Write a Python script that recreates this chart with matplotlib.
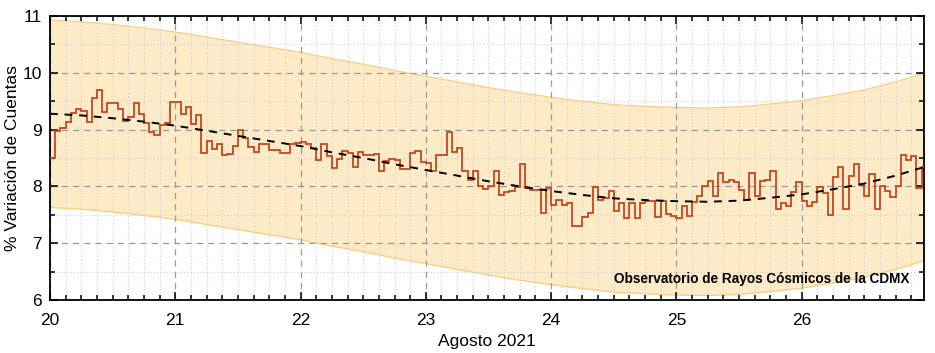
import matplotlib
matplotlib.use("Agg")
import matplotlib.pyplot as plt
import numpy as np
from matplotlib.ticker import MultipleLocator

plt.rcParams['font.family'] = ['Liberation Sans', 'DejaVu Sans']

# Hourly % variation of counts, 20 Aug 2021 00h onward
hourly_values = [
    8.50, 8.97, 9.03, 9.13, 9.30, 9.37, 9.33, 9.13, 9.55, 9.70, 9.31, 9.46,
    9.46, 9.37, 9.16, 9.23, 9.47, 9.28, 9.12, 8.96, 8.90, 9.09, 9.12, 9.48,
    9.48, 9.28, 9.40, 9.10, 9.26, 8.59, 8.80, 8.65, 8.75, 8.55, 8.57, 8.72,
    8.99, 8.85, 8.69, 8.61, 8.75, 8.75, 8.64, 8.64, 8.59, 8.59, 8.75, 8.77,
    8.78, 8.75, 8.67, 8.46, 8.75, 8.53, 8.33, 8.49, 8.62, 8.59, 8.35, 8.60,
    8.56, 8.56, 8.57, 8.28, 8.44, 8.49, 8.46, 8.30, 8.30, 8.59, 8.62, 8.43,
    8.41, 8.28, 8.55, 8.56, 8.95, 8.61, 8.67, 8.27, 8.12, 8.28, 8.01, 7.96,
    8.01, 8.27, 7.85, 7.90, 7.92, 7.99, 8.39, 7.98, 7.93, 7.93, 7.53, 7.98,
    7.67, 7.76, 7.67, 7.70, 7.31, 7.30, 7.46, 7.54, 7.99, 7.76, 7.80, 7.92,
    7.56, 7.71, 7.44, 7.71, 7.44, 7.71, 7.74, 7.74, 7.46, 7.74, 7.52, 7.48,
    7.45, 7.65, 7.48, 7.73, 7.83, 8.00, 8.09, 7.83, 8.24, 8.08, 8.11, 8.07,
    7.94, 7.76, 8.24, 7.83, 8.09, 8.11, 8.27, 7.61, 7.70, 7.65, 7.91, 8.07,
    7.74, 7.65, 7.72, 7.99, 7.89, 7.49, 8.17, 8.34, 7.61, 8.19, 8.39, 8.02,
    7.83, 8.21, 7.61, 8.01, 7.92, 7.82, 8.01, 8.56, 8.47, 8.53, 7.98, 8.35,
]
start_day = 20

# Trend curve (day of month, %)
trend_days = [20.0, 20.25, 20.5, 20.75, 21.0, 21.25, 21.5, 21.75, 22.0,
              22.25, 22.5, 22.75, 23.0, 23.25, 23.5, 23.75, 24.0, 24.25,
              24.5, 24.75, 25.0, 25.25, 25.5, 25.75, 26.0, 26.25, 26.5,
              26.75, 26.975]
trend_values = [9.28, 9.25, 9.20, 9.14, 9.07, 8.98, 8.89, 8.80, 8.71,
                8.60, 8.50, 8.39, 8.29, 8.19, 8.09, 8.00, 7.92, 7.85,
                7.79, 7.76, 7.74, 7.73, 7.75, 7.80, 7.86, 7.95, 8.05,
                8.19, 8.34]
band_halfwidth = 1.65

x_ticks = [20, 21, 22, 23, 24, 25, 26]
y_ticks = [6, 7, 8, 9, 10, 11]
x_label = "Agosto 2021"
y_label = "% Variación de Cuentas"
note = "Observatorio de Rayos Cósmicos de la CDMX"

fig = plt.figure(figsize=(9.35, 3.53), dpi=100)
ax = fig.add_axes([0.0535, 0.150, 0.9345, 0.8047])

td = np.array(trend_days)
tv = np.array(trend_values)
ax.fill_between(td, tv - band_halfwidth, tv + band_halfwidth,
                color='#fdebc8', zorder=0.2, linewidth=0)
ax.plot(td, tv + band_halfwidth, color='#f6cd82', lw=0.9, zorder=0.3)
ax.plot(td, tv - band_halfwidth, color='#f6cd82', lw=0.9, zorder=0.3)

hv = np.array(hourly_values)
hx = start_day + np.arange(len(hv) + 1) / 24.0
ax.stairs(hv, hx, color='#c5461f', lw=1.3, zorder=3, baseline=None)

ax.plot(td, tv, color='black', lw=1.4, ls=(0, (4, 3.5)), zorder=4)

ax.text(26.86, 6.37, note, ha='right', va='center', fontsize=9.8,
        fontweight='bold', color='black', zorder=5)

ax.set_xlim(20, 26.975)
ax.set_ylim(6, 11)
ax.set_xticks(x_ticks)
ax.set_yticks(y_ticks)
ax.xaxis.set_minor_locator(MultipleLocator(0.125))
ax.yaxis.set_minor_locator(MultipleLocator(0.5))
ax.set_axisbelow(True)
ax.grid(which='major', color='#9a9a9a', ls=(0, (5, 4)), lw=0.9)
ax.grid(which='minor', color='#cfcfcf', ls=(0, (1, 2)), lw=0.8)
ax.tick_params(which='both', direction='in', top=True, right=True,
               labelsize=12.5, width=1.1, color='black')
ax.tick_params(which='major', length=5.5)
ax.tick_params(axis='x', which='major', pad=9)
ax.tick_params(axis='y', which='major', pad=6)
ax.tick_params(which='minor', length=3.3)
for s in ax.spines.values():
    s.set_linewidth(1.3)
ax.set_xlabel(x_label, fontsize=12.5, labelpad=5)
ax.set_ylabel(y_label, fontsize=12.5, labelpad=2)

fig.savefig('out.png', dpi=100)
